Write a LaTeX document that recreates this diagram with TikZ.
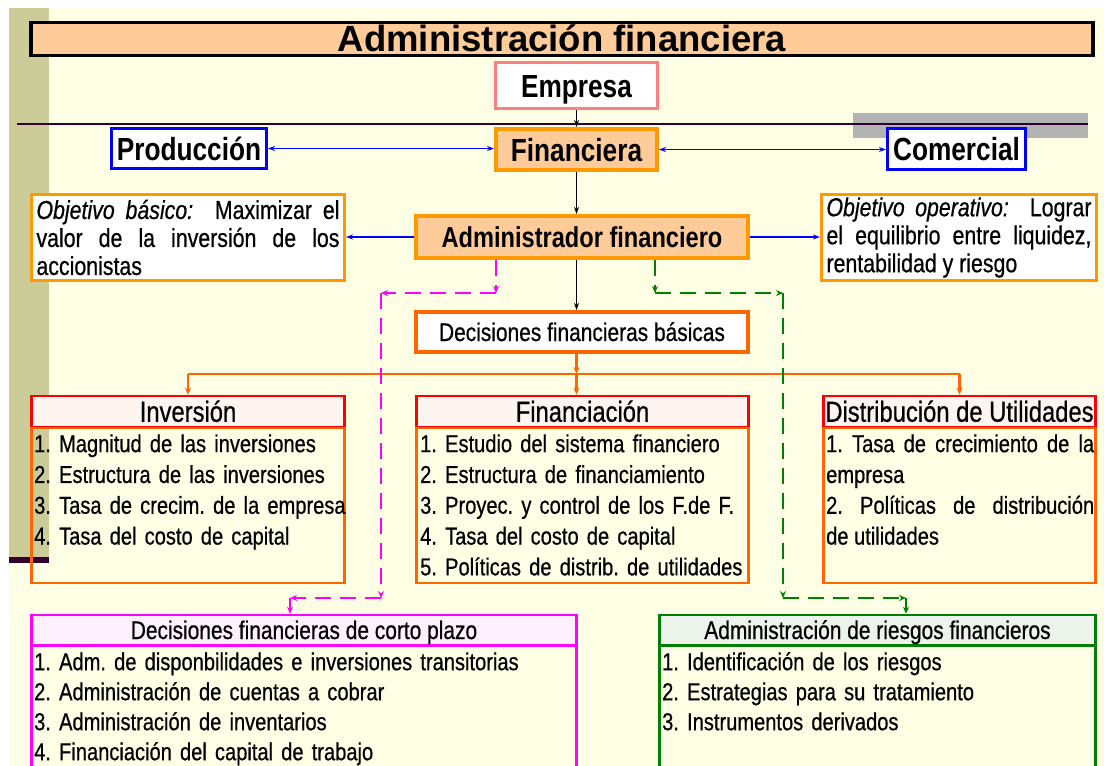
\documentclass[tikz,border=0pt]{standalone}
\usepackage{fontspec}
\setmainfont{Liberation Sans}
\newfontfamily\nar{Liberation Sans}[FakeStretch=0.82]
\newfontfamily\narm{Liberation Sans}[FakeStretch=0.82,FakeBold=0.6]
\usetikzlibrary{arrows.meta}
\definecolor{bgc}{HTML}{FFFFE6}
\definecolor{barc}{HTML}{CCCC99}
\definecolor{darkl}{HTML}{330033}
\definecolor{peach}{HTML}{FFCC99}
\definecolor{pinkc}{HTML}{FF8080}
\definecolor{orangec}{HTML}{FF9900}
\definecolor{dorange}{HTML}{FF6600}
\definecolor{bluec}{HTML}{0000FF}
\definecolor{redc}{HTML}{FF0000}
\definecolor{magc}{HTML}{FF00FF}
\definecolor{greenc}{HTML}{008000}
\definecolor{grayc}{HTML}{B3B3B3}
\definecolor{hdrfill}{HTML}{FFF5F0}
\definecolor{cpfill}{HTML}{FFF0FF}
\definecolor{rfill}{HTML}{EBF3EB}
\begin{document}
\frenchspacing
\begin{tikzpicture}[x=1pt,y=-1pt,
  bigbox/.style={inner sep=0pt, line width=3pt, text height=23pt, text depth=0pt,
     font=\nar\bfseries\fontsize{32}{36}\selectfont},
  objbox/.style={draw=orangec, fill=white, line width=3pt, inner xsep=5pt, inner ysep=0pt,
     minimum height=86pt, align=justify, font=\narm\fontsize{26}{28}\selectfont},
  hdr/.style={inner sep=0pt, line width=2.5pt, text height=20.5pt, text depth=0pt,
     font=\narm\fontsize{29}{32}\selectfont},
  hdrs/.style={inner sep=0pt, line width=2.5pt, text height=18pt, text depth=0pt,
     font=\narm\fontsize{25.5}{30}\selectfont},
  bodyb/.style={inner sep=0pt, line width=2.5pt},
  listt/.style={anchor=north west, inner sep=0pt, align=left, text width=560pt,
     font=\narm\fontsize{24.5}{30.8}\selectfont},
  listj/.style={anchor=north west, inner sep=0pt, align=justify, font=\narm\fontsize{24.5}{30.8}\selectfont},
  listc/.style={anchor=north west, inner sep=0pt, align=left, text width=560pt,
     font=\narm\fontsize{24.5}{30}\selectfont},
  blk/.style={line width=1.3pt, -{Stealth[length=7pt,width=5pt]}},
  blu/.style={draw=bluec, line width=1.3pt, {Stealth[length=7pt,width=5pt]}-{Stealth[length=7pt,width=5pt]}},
  blu1/.style={draw=bluec, line width=1.3pt, -{Stealth[length=7pt,width=5pt]}},
  org/.style={draw=dorange, line width=2.5pt},
  orga/.style={draw=dorange, line width=2.5pt, -{Stealth[length=7pt,width=6pt]}},
  mdash/.style={draw=magc, line width=2.5pt, dash pattern=on 16pt off 9pt, -{Stealth[length=7pt,width=6pt]}},
  gdash/.style={draw=greenc, line width=2.5pt, dash pattern=on 16pt off 9pt, -{Stealth[length=7pt,width=6pt]}}
]
\useasboundingbox (0,0) rectangle (1104,766);
\clip (0,0) rectangle (1104,766);
% background
\fill[white] (0,0) rectangle (1104,766);
\fill[bgc] (9,8) rectangle (1104,766);
\fill[barc] (9,8) rectangle (49,557);
\fill[darkl] (9,557) rectangle (49,563);

% title
\node[draw=black, line width=3.5pt, fill=peach, minimum width=1062pt, minimum height=33pt,
  inner sep=0pt, text height=25pt, text depth=0pt,
  font=\bfseries\fontsize{36.5}{40}\selectfont] (title) at (562,39) {Administración financiera};

% separator
\fill[grayc] (853,113) rectangle (1088,138);
\draw[darkl, line width=2.5pt] (17,124) -- (1088,124);

% top boxes
\node[bigbox, draw=pinkc, fill=white, minimum width=162pt, minimum height=46pt] (emp) at (576.5,85.5) {Empresa};
\node[bigbox, draw=bluec, fill=white, minimum width=155pt, minimum height=40pt] (prod) at (189,148.5) {Producción};
\node[bigbox, draw=orangec, fill=peach, line width=4pt, minimum width=161pt, minimum height=41pt] (fin) at (576.5,149.5) {Financiera};
\node[bigbox, draw=bluec, fill=white, minimum width=138pt, minimum height=41pt] (com) at (956.5,149) {Comercial};

\draw[blk] (emp.south) -- (emp.south |- fin.north);
\draw[blu] (prod.east) -- (prod.east -| fin.west);
\draw[blu] (fin.east) -- (fin.east -| com.west);

% administrador
\node[inner sep=0pt, draw=orangec, fill=peach, line width=4pt, minimum width=332pt, minimum height=42pt,
  text height=20.5pt, text depth=0pt, font=\nar\bfseries\fontsize{28.8}{32}\selectfont] (adm) at (582,237) {Administrador financiero};
\draw[blk] (fin.south) -- (fin.south |- adm.north);

\node[objbox, text width=303pt] (objb) at (188,237.5)
  {\textit{Objetivo básico:}\ \ Maximizar el\linebreak valor de la inversión de los\linebreak accionistas};
\node[objbox, text width=265pt] (objo) at (959,237.5)
  {\textit{Objetivo operativo:}\ \ Lograr\linebreak el equilibrio entre liquidez,\linebreak rentabilidad y riesgo};
\draw[blu1] (adm.west) -- (adm.west -| objb.east);
\draw[blu1] (adm.east) -- (adm.east -| objo.west);

% decisiones basicas
\node[inner sep=0pt, draw=dorange, fill=white, line width=4pt, minimum width=332pt, minimum height=40pt,
  text height=18pt, text depth=0pt, font=\narm\fontsize{25.5}{30}\selectfont] (dfb) at (582,332) {Decisiones financieras básicas};
\draw[blk] (fin.south |- adm.south) -- (fin.south |- dfb.north);

% three boxes
\node[hdr, draw=redc, fill=hdrfill, minimum width=313pt, minimum height=31pt] (invh) at (188,411.5) {Inversión};
\node[bodyb, draw=dorange, minimum width=313pt, minimum height=155pt] (invb) at (188,505.5) {};
\node[hdr, draw=redc, fill=hdrfill, minimum width=332pt, minimum height=31pt] (finh) at (582.5,411.5) {Financiación};
\node[bodyb, draw=dorange, minimum width=332pt, minimum height=155pt] (finb) at (582.5,505.5) {};
\node[hdr, draw=redc, fill=hdrfill, minimum width=272pt, minimum height=31pt] (disth) at (959.5,411.5) {Distribución de Utilidades};
\node[bodyb, draw=dorange, minimum width=272pt, minimum height=155pt] (distb) at (959.5,505.5) {};

\node[listt] (invl) at (34,430.4) {\strut 1. Magnitud de las inversiones\\2. Estructura de las inversiones\\3. Tasa de crecim. de la empresa\\4. Tasa del costo de capital};
\node[listt] (finl) at (420,430.4) {\strut 1. Estudio del sistema financiero\\2. Estructura de financiamiento\\3. Proyec. y control de los F.de F.\\4. Tasa del costo de capital\\5. Políticas de distrib. de utilidades};
\node[listj, text width=268pt] (distl) at (826,430.4) {\strut 1. Tasa de crecimiento de la\linebreak empresa\\2. Políticas de distribución\linebreak de utilidades};

% orange connectors
\coordinate (oj) at (576.5,374);
\draw[orga] (fin.south |- dfb.south) -- (oj);
\draw[org] (invh.north |- oj) -- (disth.north |- oj);
\draw[orga] (invh.north |- oj) -- (invh.north);
\draw[orga] (oj) -- (oj |- finh.north);
\draw[orga] (disth.north |- oj) -- (disth.north);

% bottom boxes
\node[hdrs, draw=magc, fill=cpfill, minimum width=545pt, minimum height=30pt] (cph) at (304,630) {Decisiones financieras de corto plazo};
\node[bodyb, draw=magc, minimum width=545pt, minimum height=154pt] (cpb) at (304,723) {};
\node[hdrs, draw=greenc, fill=rfill, minimum width=436pt, minimum height=30pt] (rh) at (877.5,630) {Administración de riesgos financieros};
\node[bodyb, draw=greenc, minimum width=436pt, minimum height=154pt] (rb) at (877.5,723) {};

\node[listc] (cpl) at (34,649) {\strut 1. Adm. de disponbilidades e inversiones transitorias\\2. Administración de cuentas a cobrar\\3. Administración de inventarios\\4. Financiación del capital de trabajo};
\node[listc, text width=430pt] (rl) at (662,649) {\strut 1. Identificación de los riesgos\\2. Estrategias para su tratamiento\\3. Instrumentos derivados};

% dashed connectors
\coordinate (m1) at (496,293);
\coordinate (m2) at (381,293);
\coordinate (m3) at (381,598);
\coordinate (m4) at (290,598);
\draw[mdash] (m1 |- adm.south) -- (m1);
\draw[mdash] (m1) -- (m2);
\draw[mdash] (m2) -- (m3);
\draw[mdash] (m3) -- (m4);
\draw[mdash] (m4) -- (m4 |- cph.north);

\coordinate (g1) at (655,293);
\coordinate (g2) at (783,293);
\coordinate (g3) at (783,598);
\coordinate (g4) at (906,598);
\draw[gdash] (g1 |- adm.south) -- (g1);
\draw[gdash] (g1) -- (g2);
\draw[gdash] (g2) -- (g3);
\draw[gdash] (g3) -- (g4);
\draw[gdash] (g4) -- (g4 |- rh.north);
\end{tikzpicture}
\end{document}
